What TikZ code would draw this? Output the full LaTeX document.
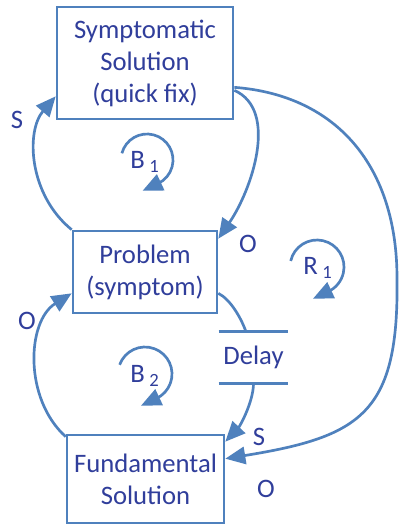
\documentclass[tikz,border=0pt]{standalone}
\usepackage{fontspec}
\setmainfont{Carlito}
\usetikzlibrary{arrows.meta,calc}
\definecolor{linkblue}{RGB}{79,129,189}
\definecolor{inkblue}{RGB}{48,62,155}
\begin{document}
\begin{tikzpicture}[x=0.75pt,y=-0.75pt,
  every node/.style={text=inkblue,font=\fontsize{20}{24}\selectfont},
  box/.style={draw=linkblue,line width=2pt,inner sep=0pt,align=center},
  link/.style={draw=linkblue,line width=2pt},
  flow/.style={link,-{Triangle[length=15pt,width=13pt]}},
  loopar/.style={flow},
  bar/.style={link}
]
\fill[white] (0,0) rectangle (401,525);
\useasboundingbox (0,0) rectangle (401,525);

% stocks
\node[box,minimum width=132pt,minimum height=84pt] (sym) at (145,63)
  {Symptomatic\\Solution\\(quick fix)};
\node[box,minimum width=108pt,minimum height=61.5pt] (prob) at (145,272)
  {Problem\\(symptom)};
\node[box,minimum width=117.75pt,minimum height=66pt] (fund) at (145.5,479)
  {Fundamental\\Solution};

% delay mark
\node[minimum width=51.75pt,minimum height=38.25pt,inner sep=0pt] (delay) at (253.5,357.5) {Delay};
\draw[bar] (delay.north west) -- (delay.north east);
\draw[bar] (delay.south west) -- (delay.south east);

% polarity labels
\node (s1) at (17,120) {S};
\node (o1) at (248,244) {O};
\node (o2) at (27,321) {O};
\node (s2) at (259,437) {S};
\node (o3) at (266,489) {O};

% loop labels
\node (b1) at (145,162) {B\,\textsubscript{1}};
\node (r1) at (318,268) {R\,\textsubscript{1}};
\node (b2) at (145,376) {B\,\textsubscript{2}};

% loop direction marks
\draw[loopar] ($(b1)+(2,-2)+(-165:26)$) arc[start angle=-165,end angle=65,radius=26] -- ++(-15.4,7.2);
\draw[loopar] ($(r1)+(-1,-1)+(-167:27)$) arc[start angle=-167,end angle=65,radius=27] -- ++(-15.4,7.2);
\draw[loopar] ($(b2)+(0,-2)+(-160:27)$) arc[start angle=-160,end angle=65,radius=27] -- ++(-15.4,7.2);

% balancing loop B1
\draw[flow] (prob.north west) .. controls +(-43,-35) and +(-30,35) .. ($(sym.south west)+(0,-24)$);
\draw[flow] ($(sym.south east)+(0,-30)$) .. controls +(45,20) and +(33,-48) .. ($(prob.north east)+(0,9)$);

% reinforcing loop R1
\coordinate (far) at (397,278);
\draw[flow] ($(sym.south east)+(0,-33)$) .. controls +(104,8) and +(0,-110) .. (far)
  .. controls +(2,135) and +(136,-22) .. ($(fund.north east)+(0,25)$);

% balancing loop B2
\draw[flow] ($(fund.north west)+(0,3)$) .. controls +(-42,-38) and +(-45,28) .. ($(prob.south west)+(0,-21)$);
\draw[link] ($(prob.south east)+(0,-21)$) .. controls +(12,6) and +(-5,-14) .. ($(delay.north)+(-7.5,0)$);
\draw[flow] (delay.south) .. controls +(0,18) and +(15,-16) .. ($(fund.north east)+(0,8)$);
\end{tikzpicture}
\end{document}
